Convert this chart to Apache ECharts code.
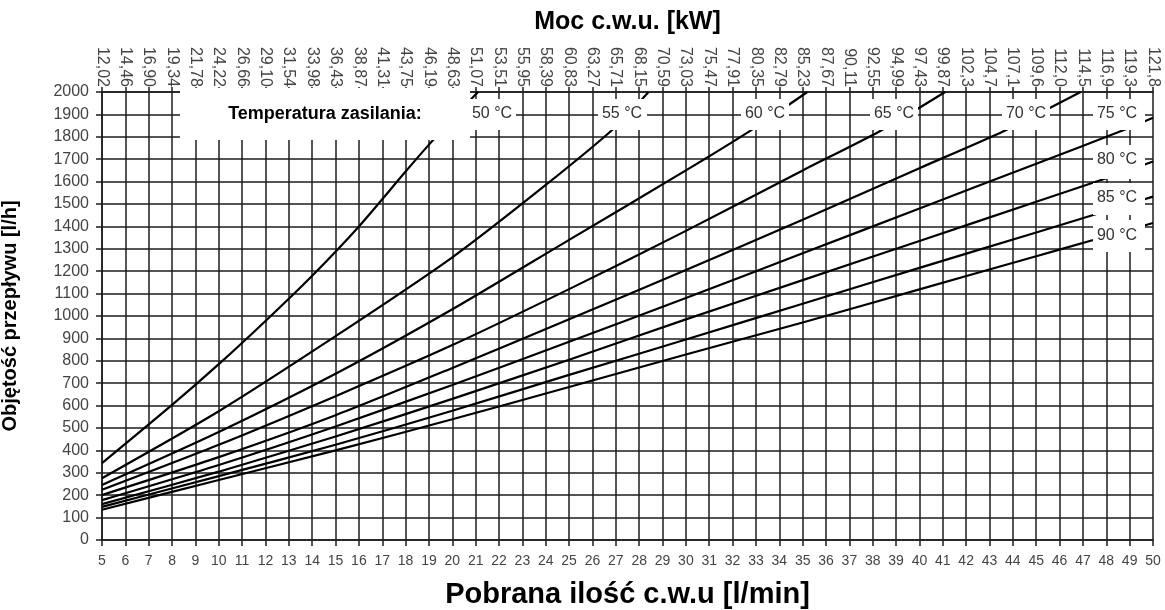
<!DOCTYPE html>
<html>
<head>
<meta charset="utf-8">
<script src="https://cdn.jsdelivr.net/npm/echarts@6/dist/echarts.min.js"></script>
<style>
html,body{margin:0;padding:0;background:#fff;}
#chart{width:1165px;height:610px;}
</style>
</head>
<body>
<div id="chart"></div>
<script>
// Bottom axis: DHW flow [l/min]
const flowMin = 5, flowMax = 50;
// Top axis tick labels: DHW power [kW]
const powerLabels = ["12,02","14,46","16,90","19,34","21,78","24,22","26,66","29,10","31,54","33,98",
  "36,43","38,87","41,31","43,75","46,19","48,63","51,07","53,51","55,95","58,39",
  "60,83","63,27","65,71","68,15","70,59","73,03","75,47","77,91","80,35","82,79",
  "85,23","87,67","90,11","92,55","94,99","97,43","99,87","102,3","104,7","107,1",
  "109,6","112,0","114,5","116,9","119,3","121,8"];
// Supply temperature curves: [DHW flow l/min, primary flow l/h]
const t50 = [[5,343],[8,603],[10,785],[12,978],[14,1180],[16,1400],[18,1645],[19,1765],[20,1880],[21.1,2000]];
const t55 = [[5,276],[10,575],[15,910],[20,1262],[24,1585],[27,1845],[28.4,2000]];
const t60 = [[5,246],[10,482],[15,742],[20,1030],[25,1340],[30,1650],[32.8,1830],[35.2,2000]];
const t65 = [[5,224],[10,425],[15,642],[20,870],[25,1120],[30,1380],[35,1650],[38.3,1825],[41.1,2000]];
const t70 = [[5,201],[10,370],[15,557],[20,768],[25,985],[30,1205],[35,1430],[40,1660],[43.6,1825],[46.9,2000]];
const t75 = [[5,178],[10,335],[15,507],[20,692],[25,885],[30,1080],[35,1280],[40,1480],[45,1680],[48.75,1830],[50,1885]];
const t80 = [[5,160],[10,305],[15,462],[20,630],[25,805],[30,985],[35,1160],[40,1335],[45,1510],[48,1615],[50,1690]];
const t85 = [[5,148],[10,285],[15,425],[20,577],[25,737],[30,895],[35,1055],[40,1215],[45,1373],[47.44,1451],[50,1533]];
const t90 = [[5,135],[10,268],[15,400],[20,539],[25,683],[30,828],[35,971],[40,1119],[45,1267],[47.44,1339],[50,1415]];
const seriesNames = ["50 °C","55 °C","60 °C","65 °C","70 °C","75 °C","80 °C","85 °C","90 °C"];
const seriesData = [t50,t55,t60,t65,t70,t75,t80,t85,t90];

const FONT = "'Liberation Sans', Arial, sans-serif";
const gridColor = '#1c1c1c';

const chart = echarts.init(document.getElementById('chart'), null, {renderer:'canvas'});

function box(x,y,w,h){
  return {type:'rect', z:100, shape:{x:x,y:y,width:w,height:h}, style:{fill:'#fff'}};
}
function label(txt,cx,cy,size,weight,color){
  return {type:'text', z:101, x:cx, y:cy, style:{text:txt, fill:color||'#333', font:(weight||'normal')+' '+size+'px '+FONT, textAlign:'center', textVerticalAlign:'middle'}};
}

const option = {
  animation:false,
  backgroundColor:'#fff',
  grid:{left:102,right:12,top:92,bottom:70,containLabel:false,outerBoundsMode:'none'},
  xAxis:[
    {
      type:'value', position:'bottom', min:flowMin, max:flowMax, interval:1,
      name:'Pobrana ilość c.w.u [l/min]', nameLocation:'middle', nameGap:40,
      nameTextStyle:{fontFamily:FONT, fontSize:29, fontWeight:'bold', color:'#000'},
      axisLine:{show:true, lineStyle:{color:gridColor, width:1.5}},
      axisTick:{show:true, length:6, lineStyle:{color:gridColor, width:1.5}},
      axisLabel:{fontFamily:FONT, fontSize:14, color:'#444', margin:14},
      splitLine:{show:true, lineStyle:{color:gridColor, width:1.5}}
    },
    {
      type:'value', position:'top', min:flowMin, max:flowMax, interval:1,
      name:'Moc c.w.u. [kW]', nameLocation:'middle', nameGap:57,
      nameTextStyle:{fontFamily:FONT, fontSize:25, fontWeight:'bold', color:'#000'},
      axisLine:{show:true, lineStyle:{color:gridColor, width:1.5}},
      axisTick:{show:true, length:5, lineStyle:{color:gridColor, width:1.5}},
      axisLabel:{fontFamily:FONT, fontSize:16, color:'#444', margin:5, rotate:90,
        formatter:function(v){ return powerLabels[Math.round(v-flowMin)]; }},
      splitLine:{show:false}
    }
  ],
  yAxis:{
    type:'value', min:0, max:2000, interval:100,
    name:'Objętość przepływu [l/h]', nameLocation:'middle', nameGap:82,
    nameTextStyle:{fontFamily:FONT, fontSize:20, fontWeight:'bold', color:'#000'},
    axisLine:{show:true, lineStyle:{color:gridColor, width:1.5}},
    axisTick:{show:true, length:6, lineStyle:{color:gridColor, width:1.5}},
    axisLabel:{fontFamily:FONT, fontSize:16, color:'#444', margin:13,
      formatter:function(v){ return String(v); }},
    splitLine:{show:true, lineStyle:{color:gridColor, width:1.5}}
  },
  series: seriesData.map(function(d,i){
    return {name:seriesNames[i], type:'line', data:d, xAxisIndex:0, showSymbol:false, symbol:'none',
      smooth:0.25, clip:true, z:5, lineStyle:{color:'#000', width:2.2}};
  }),
  graphic:[
    box(180,88,290,52), label('Temperatura zasilania:',325,114,18,'bold','#000'),
    box(468,99,48,31), label(seriesNames[0],492,114,16),
    box(598,99,49,31), label(seriesNames[1],622,114,16),
    box(741,99,48,31), label(seriesNames[2],765,114,16),
    box(870,99,48,31), label(seriesNames[3],894,114,16),
    box(1002,99,48,31), label(seriesNames[4],1026,114,16),
    box(1093,99,52,31), label(seriesNames[5],1117,114,16),
    box(1093,145,52,34), label(seriesNames[6],1117,160,16),
    box(1093,183,52,32), label(seriesNames[7],1117,198,16),
    box(1093,220,52,32), label(seriesNames[8],1117,236,16)
  ]
};
chart.setOption(option);
</script>
</body>
</html>
